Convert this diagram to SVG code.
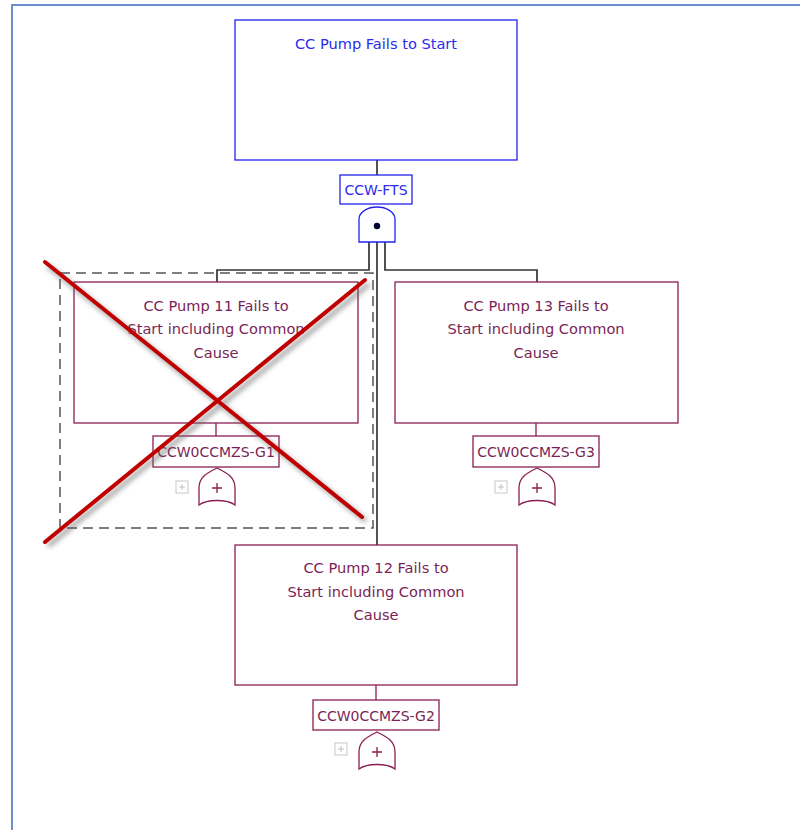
<svg xmlns="http://www.w3.org/2000/svg" width="800" height="830" viewBox="0 0 800 830">
<style>
.frame{fill:none;stroke:#6b8fcc;stroke-width:2}
.blue{fill:#fff;stroke:#2222ee;stroke-width:1.3}
.mar{fill:#fff;stroke:#8b1e52;stroke-width:1.3}
.tb{font-family:"DejaVu Sans",sans-serif;font-size:14px;fill:#2a2af0;text-anchor:middle}
.tm{font-family:"DejaVu Sans",sans-serif;font-size:14px;fill:#7a1f58;text-anchor:middle}
.big{font-size:14.6px}
.conn{fill:none;stroke:#333;stroke-width:1.7}
.icon{fill:#fff;stroke:#c8c8c8;stroke-width:1}
.iconp{stroke:#c0c0c0;stroke-width:1}
.x{stroke:#c00000;stroke-width:4;stroke-linecap:round}
</style>
<defs>
<filter id="sh" x="-20%" y="-20%" width="140%" height="140%">
<feGaussianBlur stdDeviation="2.5"/>
</filter>
<g id="orgate">
<path d="M0,0 C10,5 18,9 18,20 L18,37 C10,31 -10,31 -18,37 L-18,20 C-18,9 -10,5 0,0 Z" fill="#fff" stroke="#8b1e52" stroke-width="1.3"/>
<path d="M-5,20 H5 M0,15 V25" stroke="#8b1e52" stroke-width="1.3"/>
</g>
<g id="exp">
<rect x="0" y="0" width="12" height="12" class="icon"/>
<path d="M3,6 H9 M6,3 V9" class="iconp"/>
</g>
</defs>
<rect width="800" height="830" fill="#fff"/>
<path class="frame" d="M12,830 V5 H800"/>

<g id="connectors">
<line class="conn" x1="377" y1="160" x2="377" y2="175"/>
<path class="conn" d="M369,242 V270 H217 V282"/>
<path class="conn" d="M385,242 V270 H537 V282"/>
<line class="conn" x1="377" y1="242" x2="377" y2="545"/>
<line x1="216" y1="423" x2="216" y2="436" stroke="#8b1e52" stroke-width="1.3"/>
<line x1="536" y1="423" x2="536" y2="436" stroke="#8b1e52" stroke-width="1.3"/>
<line x1="376" y1="685" x2="376" y2="700" stroke="#8b1e52" stroke-width="1.3"/>
</g>

<g id="top">
<rect class="blue" x="235" y="20" width="282" height="140"/>
<text class="tb big" x="376" y="49">CC Pump Fails to Start</text>
<rect class="blue" x="340" y="175" width="72" height="29"/>
<text class="tb" x="376" y="195">CCW-FTS</text>
<path d="M359,242 V219 C359,212 368,207 377,207 C386,207 395,212 395,219 V242 Z" fill="#fff" stroke="#2222ee" stroke-width="1.3"/>
<circle cx="377" cy="226" r="3.2" fill="#000033"/>
</g>

<g id="g1">
<rect class="mar" x="74" y="282" width="284" height="141"/>
<text class="tm big" x="216" y="311">CC Pump 11 Fails to</text>
<text class="tm big" x="216" y="334">Start including Common</text>
<text class="tm big" x="216" y="358">Cause</text>
<rect class="mar" x="153" y="436" width="126" height="31"/>
<text class="tm" x="216" y="457">CCW0CCMZS-G1</text>
<use href="#orgate" x="217" y="468"/>
<use href="#exp" x="176" y="481"/>
</g>

<g id="g3">
<rect class="mar" x="395" y="282" width="283" height="141"/>
<text class="tm big" x="536" y="311">CC Pump 13 Fails to</text>
<text class="tm big" x="536" y="334">Start including Common</text>
<text class="tm big" x="536" y="358">Cause</text>
<rect class="mar" x="473" y="436" width="126" height="31"/>
<text class="tm" x="536" y="457">CCW0CCMZS-G3</text>
<use href="#orgate" x="537" y="468"/>
<use href="#exp" x="495" y="481"/>
</g>

<g id="g2">
<rect class="mar" x="235" y="545" width="282" height="140"/>
<text class="tm big" x="376" y="573">CC Pump 12 Fails to</text>
<text class="tm big" x="376" y="597">Start including Common</text>
<text class="tm big" x="376" y="620">Cause</text>
<rect class="mar" x="313" y="700" width="126" height="30"/>
<text class="tm" x="376" y="721">CCW0CCMZS-G2</text>
<use href="#orgate" x="377" y="732"/>
<use href="#exp" x="335" y="743"/>
</g>

<g id="cross">
<rect x="60" y="273" width="313" height="255" fill="none" stroke="#555" stroke-width="1.5" stroke-dasharray="10,6"/>
<g filter="url(#sh)" opacity="0.55">
<line x1="48" y1="266" x2="366" y2="521" stroke="#666" stroke-width="5"/>
<line x1="48" y1="546" x2="369" y2="284" stroke="#666" stroke-width="5"/>
</g>
<line class="x" x1="45" y1="262" x2="362" y2="517"/>
<line class="x" x1="45" y1="542" x2="365" y2="280"/>
</g>
</svg>
